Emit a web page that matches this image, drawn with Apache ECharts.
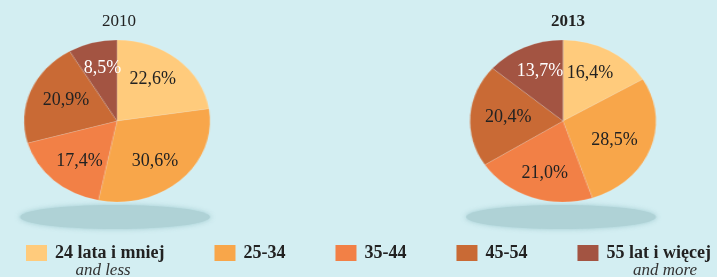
<!DOCTYPE html>
<html>
<head>
<meta charset="utf-8">
<script src="https://cdn.jsdelivr.net/npm/echarts@6/dist/echarts.min.js"></script>
<style>
  html, body { margin: 0; padding: 0; overflow: hidden; background: #d3eef2; }
  #wrap { position: relative; width: 717px; height: 277px; overflow: hidden; }
  #pies { position: absolute; left: 0; top: 0; width: 717px; height: 277px; transform: scaleX(1.148); transform-origin: 0 0; }
  #main { position: absolute; left: 0; top: 0; width: 717px; height: 277px; }
</style>
</head>
<body>
<div id="wrap">
  <div id="pies"></div>
  <div id="main"></div>
</div>
<script>
const categories = ['24 lata i mniej', '25-34', '35-44', '45-54', '55 lat i więcej'];
const years = ['2010', '2013'];
const values2010 = [22.6, 30.6, 17.4, 20.9, 8.5];
const values2013 = [16.4, 28.5, 21.0, 20.4, 13.7];
const colors = ['#ffcb7c', '#f8a64a', '#f28046', '#c96a35', '#a35442'];

// pies are stretched sideways with css so they come out oval like the original
const SX = 1.148;
const centers = [[117, 121], [563, 121]];

var pieChart = echarts.init(document.getElementById('pies'));
var myChart = echarts.init(document.getElementById('main'));

function toData (vals, withLabel) {
  return vals.map((v, i) => ({
    name: categories[i],
    value: v,
    label: { color: withLabel && i === 4 ? '#ffffff' : '#222222' }
  }));
}

function fmt (p) {
  return p.value.toFixed(1).replace('.', ',') + '%';
}

var pieOption = {
  animation: false,
  color: colors,
  graphic: centers.map(c => ({
    type: 'ellipse',
    z: -1,
    shape: { cx: (c[0] - 2) / SX, cy: 217, rx: 95 / SX, ry: 12 },
    style: { fill: '#afd2d6', shadowBlur: 5, shadowColor: 'rgba(150,195,200,0.8)' },
    silent: true
  })),
  series: [values2010, values2013].map((vals, k) => ({
    type: 'pie',
    center: [centers[k][0] / SX, centers[k][1]],
    radius: 81,
    startAngle: 90,
    clockwise: true,
    silent: true,
    label: { show: false },
    labelLine: { show: false },
    itemStyle: { borderColor: 'rgba(255,255,255,0.25)', borderWidth: 0.5 },
    data: toData(vals, false)
  }))
};

var option = {
  animation: false,
  backgroundColor: 'transparent',
  legend: {
    left: 21,
    top: 239,
    itemGap: 50,
    itemWidth: 21,
    itemHeight: 16,
    icon: 'rect',
    selectedMode: false,
    textStyle: {
      fontFamily: 'Liberation Serif',
      fontWeight: 'bold',
      fontSize: 18,
      color: '#222222',
      padding: [0, 0, 0, 3]
    },
    data: categories.map((c, i) => ({ name: c, itemStyle: { color: colors[i], opacity: 1 } }))
  },
  graphic: [
    { type: 'text', x: 119, y: 13, style: { text: years[0], textAlign: 'center', font: '17px "Liberation Serif"', fill: '#222' } },
    { type: 'text', x: 568, y: 13, style: { text: years[1], textAlign: 'center', font: 'bold 17px "Liberation Serif"', fill: '#222' } },
    { type: 'text', x: 103, y: 262, style: { text: 'and less', textAlign: 'center', font: 'italic 17px "Liberation Serif"', fill: '#333' } },
    { type: 'text', x: 665, y: 262, style: { text: 'and more', textAlign: 'center', font: 'italic 17px "Liberation Serif"', fill: '#333' } }
  ],
  // transparent copy of each pie, only here to carry the percentage labels
  series: [values2010, values2013].map((vals, k) => ({
    type: 'pie',
    center: centers[k],
    radius: [14, 90],
    startAngle: 90,
    clockwise: true,
    silent: true,
    itemStyle: { color: 'transparent' },
    label: {
      show: true,
      position: 'inside',
      formatter: fmt,
      fontFamily: 'Liberation Serif',
      fontSize: 18
    },
    labelLine: { show: false },
    data: toData(vals, true)
  }))
};

pieChart.setOption(pieOption);
myChart.setOption(option);
</script>
</body>
</html>
